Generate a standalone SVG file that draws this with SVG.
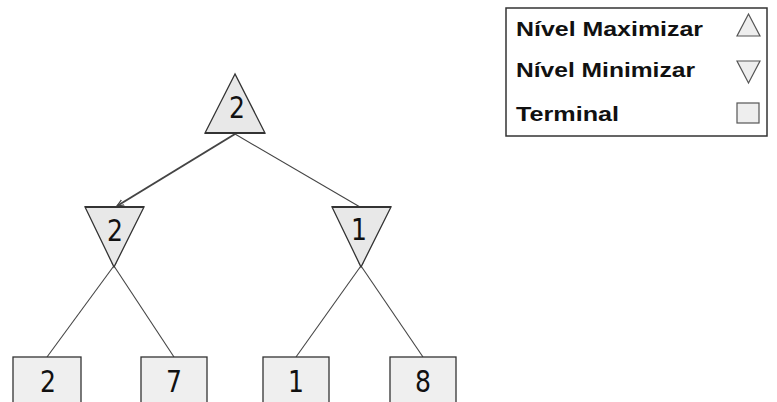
<svg xmlns="http://www.w3.org/2000/svg" width="777" height="402" viewBox="0 0 777 402">
<style>
.tri{fill:#e8e8e8;stroke:#333;stroke-width:1.3}
.leaf{fill:#efefef;stroke:#333;stroke-width:1.3}
.num{font-family:"DejaVu Sans",Verdana,sans-serif;font-size:31px;fill:#111;text-anchor:middle}
.edge{stroke:#444;stroke-width:1.1;fill:none}
.best{stroke:#444;stroke-width:2;fill:none}
.lg{font-family:"Liberation Sans",Arial,sans-serif;font-weight:bold;font-size:20px;fill:#111}
.lgs{fill:#eeeeee;stroke:#555;stroke-width:1.2}
</style>
<defs>
<marker id="ah" markerWidth="8" markerHeight="8" refX="7" refY="4" orient="auto" markerUnits="userSpaceOnUse">
<path d="M0,1 L7,4 L0,7" fill="none" stroke="#444" stroke-width="1.2"/>
</marker>
</defs>
<rect width="777" height="402" fill="#ffffff"/>
<g id="connectors">
<line class="best" x1="235" y1="134" x2="117" y2="206" marker-end="url(#ah)"/>
<line class="edge" x1="235" y1="134" x2="360" y2="207"/>
<line class="edge" x1="116" y1="263" x2="47" y2="357"/>
<line class="edge" x1="112" y1="263" x2="174" y2="357"/>
<line class="edge" x1="363" y1="263" x2="296" y2="357"/>
<line class="edge" x1="359" y1="263" x2="423" y2="357"/>
</g>
<g id="root">
<polygon class="tri" points="235,74 205,133 265,133"/>
<line x1="205" y1="133" x2="265" y2="133" stroke="#333" stroke-width="2"/>
<text class="num" x="237" y="118" textLength="16" lengthAdjust="spacingAndGlyphs">2</text>
</g>
<g id="min-left">
<polygon class="tri" points="85,207 144,207 114,267"/>
<line x1="85" y1="207" x2="144" y2="207" stroke="#333" stroke-width="2"/>
<text class="num" x="115" y="241" textLength="16" lengthAdjust="spacingAndGlyphs">2</text>
</g>
<g id="min-right">
<polygon class="tri" points="332,207 391,207 361,267"/>
<line x1="332" y1="207" x2="391" y2="207" stroke="#333" stroke-width="2"/>
<text class="num" x="359" y="240" textLength="16" lengthAdjust="spacingAndGlyphs">1</text>
</g>
<g id="leaf-2">
<rect class="leaf" x="13" y="357" width="68" height="60"/>
<text class="num" x="48" y="392" textLength="16" lengthAdjust="spacingAndGlyphs">2</text>
</g>
<g id="leaf-7">
<rect class="leaf" x="141" y="357" width="66" height="60"/>
<text class="num" x="174" y="392" textLength="16" lengthAdjust="spacingAndGlyphs">7</text>
</g>
<g id="leaf-1">
<rect class="leaf" x="263" y="357" width="66" height="60"/>
<text class="num" x="296" y="392" textLength="16" lengthAdjust="spacingAndGlyphs">1</text>
</g>
<g id="leaf-8">
<rect class="leaf" x="390" y="357" width="66" height="60"/>
<text class="num" x="423" y="392" textLength="16" lengthAdjust="spacingAndGlyphs">8</text>
</g>
<g id="legend">
<rect x="506" y="8" width="261" height="128" fill="#ffffff" stroke="#333" stroke-width="1.5"/>
<text class="lg" x="516" y="36" textLength="187" lengthAdjust="spacingAndGlyphs">Nível Maximizar</text>
<text class="lg" x="516" y="77" textLength="179" lengthAdjust="spacingAndGlyphs">Nível Minimizar</text>
<text class="lg" x="516" y="121" textLength="103" lengthAdjust="spacingAndGlyphs">Terminal</text>
<polygon class="lgs" points="748.5,14 737,36 760,36"/>
<polygon class="lgs" points="737,61 760,61 748.5,83"/>
<rect class="lgs" x="737" y="103" width="22" height="20"/>
</g>
</svg>
